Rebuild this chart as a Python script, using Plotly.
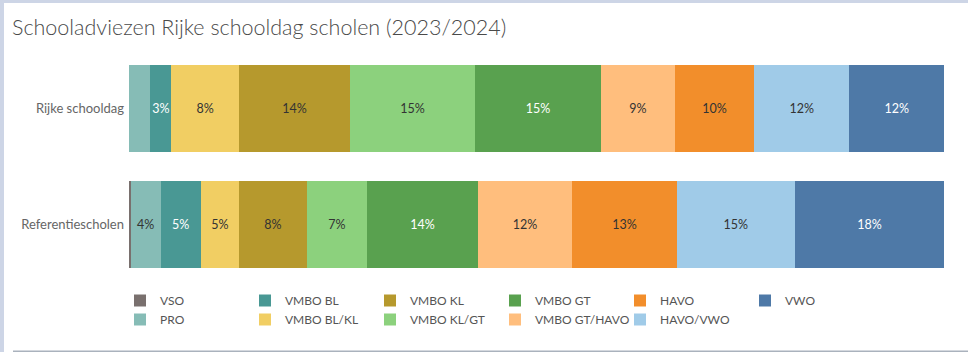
import plotly.graph_objects as go

# ---------------- data ----------------
rows = ["Rijke schooldag", "Referentiescholen"]
categories = ["VSO", "PRO", "VMBO BL", "VMBO BL/KL", "VMBO KL", "VMBO KL/GT",
              "VMBO GT", "VMBO GT/HAVO", "HAVO", "HAVO/VWO", "VWO"]
rijke = [0.0, 2.6, 2.6, 8.3, 13.6, 15.4, 15.4, 9.1, 9.7, 11.7, 11.6]
referentie = [0.2, 3.7, 4.9, 4.7, 8.3, 7.4, 13.6, 11.6, 12.8, 14.5, 18.3]
rijke_labels = ["", "", "3%", "8%", "14%", "15%", "15%", "9%", "10%", "12%", "12%"]
ref_labels = ["", "4%", "5%", "5%", "8%", "7%", "14%", "12%", "13%", "15%", "18%"]
legend_order = ["VSO", "VMBO BL", "VMBO KL", "VMBO GT", "HAVO", "VWO",
                "PRO", "VMBO BL/KL", "VMBO KL/GT", "VMBO GT/HAVO", "HAVO/VWO"]

colors = ["#79706E", "#86BCB6", "#499894", "#F1CE63", "#B6992D", "#8CD17D",
          "#59A14F", "#FFBE7D", "#F28E2B", "#A0CBE8", "#4E79A7"]
label_colors = ["#333333", "#333333", "#FFFFFF", "#333333", "#333333", "#333333",
                "#FFFFFF", "#333333", "#333333", "#333333", "#FFFFFF"]

FONT = "Lato"
W, H = 968, 352
L, R, T, B = 120, 24, 50, 70
PW = W - L - R
PH = H - T - B
ZERO_PX = 129  # page x where 0% starts

fig = go.Figure()
for i, cat in enumerate(categories):
    fig.add_trace(go.Bar(
        y=rows,
        x=[rijke[i], referentie[i]],
        name=cat,
        orientation="h",
        marker=dict(color=colors[i], line=dict(width=0)),
        text=[rijke_labels[i], ref_labels[i]],
        textposition="inside",
        insidetextanchor="middle",
        textangle=0,
        textfont=dict(family=FONT, size=12.5, color=label_colors[i]),
        legendrank=legend_order.index(cat) + 1,
        hoverinfo="skip",
    ))

units_per_px = 100 / (W - R - ZERO_PX)
x0 = -(ZERO_PX - L) * units_per_px


def px(p):
    return (p - L) / PW


def py(p):
    return (H - B - p) / PH


shapes = [
    dict(type="rect", xref="paper", yref="paper", x0=px(0), x1=px(4), y0=py(H), y1=py(0),
         fillcolor="#CDD5E6", line=dict(width=0), layer="above"),
    dict(type="rect", xref="paper", yref="paper", x0=px(0), x1=px(W), y0=py(3), y1=py(0),
         fillcolor="#CDD5E6", line=dict(width=0), layer="above"),
    dict(type="rect", xref="paper", yref="paper", x0=px(13), x1=px(W), y0=py(H), y1=py(350.5),
         fillcolor="#AAB2BD", line=dict(width=0), layer="above"),
]

fig.update_layout(
    width=W, height=H,
    margin=dict(l=L, r=R, t=T, b=B, pad=0, autoexpand=False),
    paper_bgcolor="white", plot_bgcolor="white",
    barmode="stack", bargap=0.25,
    font=dict(family=FONT, size=12, color="#555555"),
    uniformtext=dict(mode="show", minsize=12),
    title=dict(text="Schooladviezen Rijke schooldag scholen (2023/2024)",
               x=12 / W, xref="container", xanchor="left",
               y=1 - 27 / H, yref="container", yanchor="middle",
               font=dict(family=FONT, size=21.5, color="#4a4a4a", weight=300)),
    xaxis=dict(range=[x0, 100], visible=False, fixedrange=True),
    yaxis=dict(range=[1.5, -0.5], showgrid=False, zeroline=False, showline=False,
               ticks="", tickfont=dict(family=FONT, size=13, color="#666666"),
               ticklabelstandoff=-5, fixedrange=True),
    legend=dict(orientation="h", x=0, xanchor="left", y=py(286), yanchor="top",
                entrywidth=80, entrywidthmode="pixels", traceorder="normal",
                font=dict(family=FONT, size=12, color="#555555"),
                bgcolor="rgba(0,0,0,0)", borderwidth=0),
    shapes=shapes,
    showlegend=True,
)

fig.write_html("out.html")
